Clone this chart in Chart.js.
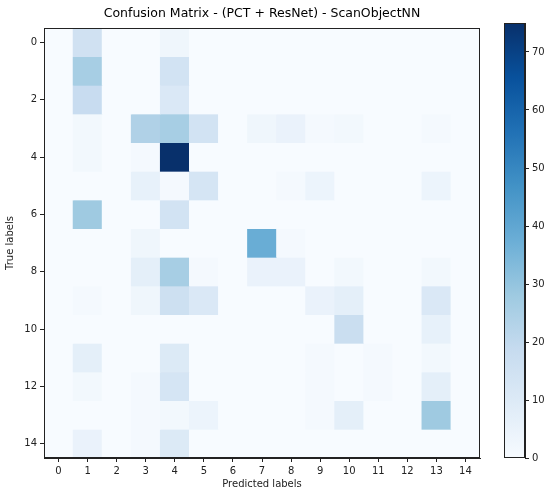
<!doctype html>
<html><head>
<meta charset="utf-8">
<title>Confusion Matrix</title>
<script src="https://cdn.jsdelivr.net/npm/chart.js"></script>
<style>
  body { margin: 0; background: #fff; }
  #wrap { position: relative; width: 552px; height: 496px; }
  #cm { position: absolute; left: 0; top: 0; }
  #cbar { position: absolute; left: 495px; top: 0; }
</style>
</head>
<body>
<div id="wrap">
  <canvas id="cm" width="492" height="496"></canvas>
  <canvas id="cbar" width="57" height="496"></canvas>
</div>
<script>
// labels
const classes = ['0','1','2','3','4','5','6','7','8','9','10','11','12','13','14'];
const yTicks = [0, 2, 4, 6, 8, 10, 12, 14];
const cbarTicks = [0, 10, 20, 30, 40, 50, 60, 70];
const vmin = 0;
const vmax = 75;

// confusion matrix, rows = true labels, cols = predicted labels
const row0  = [0, 15, 0, 0,  3,  0, 0,  0, 0, 0,  0, 0, 0,  0, 0];
const row1  = [0, 26, 0, 0, 14,  0, 0,  0, 0, 0,  0, 0, 0,  0, 0];
const row2  = [0, 18, 0, 0, 11,  0, 0,  0, 0, 0,  0, 0, 0,  0, 0];
const row3  = [0,  2, 0, 24, 26, 14, 0, 3, 5, 1,  2, 0, 0,  1, 0];
const row4  = [0,  2, 0, 1, 75,  0, 0,  0, 0, 0,  0, 0, 0,  0, 0];
const row5  = [0,  0, 0, 6,  1, 13, 0,  0, 1, 4,  0, 0, 0,  4, 0];
const row6  = [0, 28, 0, 0, 14,  0, 0,  0, 0, 0,  0, 0, 0,  0, 0];
const row7  = [0,  0, 0, 3,  0,  0, 0, 38, 1, 0,  0, 0, 0,  0, 0];
const row8  = [0,  0, 0, 7, 26,  1, 0,  5, 5, 0,  2, 0, 0,  2, 0];
const row9  = [0,  1, 0, 3, 16, 11, 0,  0, 0, 5,  7, 0, 0, 11, 0];
const row10 = [0,  0, 0, 0,  0,  0, 0,  0, 0, 0, 17, 0, 0,  6, 0];
const row11 = [0,  7, 0, 0, 10,  0, 0,  0, 0, 1,  0, 1, 0,  2, 0];
const row12 = [0,  2, 0, 1, 13,  0, 0,  0, 0, 1,  0, 1, 0,  7, 0];
const row13 = [0,  0, 0, 1,  2,  4, 0,  0, 0, 1,  7, 0, 0, 28, 0];
const row14 = [0,  5, 0, 1, 10,  0, 0,  0, 0, 0,  0, 0, 0,  0, 0];
const matrix = [row0, row1, row2, row3, row4, row5, row6, row7, row8, row9, row10, row11, row12, row13, row14];

// matplotlib "Blues"
const blues = ['#f7fbff','#deebf7','#c6dbef','#9ecae1','#6baed6','#4292c6','#2171b5','#08519c','#08306b'];

function hex2rgb(h) {
  return [parseInt(h.substr(1,2),16), parseInt(h.substr(3,2),16), parseInt(h.substr(5,2),16)];
}
function blueColor(v) {
  let t = (v - vmin) / (vmax - vmin);
  t = Math.max(0, Math.min(1, t));
  const p = t * (blues.length - 1);
  const i = Math.min(Math.floor(p), blues.length - 2);
  const f = p - i;
  const a = hex2rgb(blues[i]), b = hex2rgb(blues[i+1]);
  const c = a.map((x, k) => Math.round(x + (b[k] - x) * f));
  return 'rgb(' + c.join(',') + ')';
}

const frame = {
  id: 'frame',
  afterDraw(chart) {
    const a = chart.chartArea, ctx = chart.ctx;
    ctx.save();
    ctx.strokeStyle = '#222';
    ctx.lineWidth = 1;
    ctx.strokeRect(Math.round(a.left) + 0.5, Math.round(a.top) + 0.5,
                   Math.round(a.right - a.left) - 1, Math.round(a.bottom - a.top) - 1);
    ctx.restore();
  }
};

Chart.defaults.font.family = 'DejaVu Sans';
Chart.defaults.color = '#222';

var datasets = matrix.map(function(row, r) {
  return {
    label: 'row ' + r,
    data: row.map(function() { return [r - 0.5, r + 0.5]; }),
    backgroundColor: row.map(blueColor),
    borderWidth: 0,
    barPercentage: 1,
    categoryPercentage: 1,
    grouped: false
  };
});

new Chart(document.getElementById('cm'), {
  type: 'bar',
  data: { labels: classes, datasets: datasets },
  options: {
    responsive: false,
    animation: false,
    layout: { padding: { left: 0, right: 12, top: 0, bottom: 0 } },
    plugins: {
      legend: { display: false },
      tooltip: { enabled: false },
      title: {
        display: true,
        text: 'Confusion Matrix - (PCT + ResNet) - ScanObjectNN',
        fullSize: false,
        color: '#000',
        font: { size: 12.5, weight: 'normal' },
        padding: { top: 6, bottom: 7 }
      }
    },
    scales: {
      x: {
        type: 'category',
        offset: true,
        grid: { drawOnChartArea: false, drawTicks: true, tickLength: 4, offset: false, color: '#222' },
        border: { display: true, color: '#222' },
        ticks: { autoSkip: false, maxRotation: 0, padding: 3, font: { size: 10 }, color: '#222' },
        title: { display: true, text: 'Predicted labels', font: { size: 10 }, color: '#222', padding: { top: 2, bottom: 6 } },
        afterFit: function(s) { s.height = 38; }
      },
      y: {
        type: 'linear',
        reverse: true,
        min: -0.5,
        max: 14.5,
        grid: { drawOnChartArea: false, drawTicks: true, tickLength: 4, color: '#222' },
        border: { display: true, color: '#222' },
        ticks: { padding: 3, font: { size: 10 }, color: '#222' },
        afterBuildTicks: function(s) { s.ticks = yTicks.map(function(v) { return { value: v }; }); },
        title: { display: true, text: 'True labels', font: { size: 10 }, color: '#222', padding: { top: 4, bottom: 0 } },
        afterFit: function(s) { s.width = 44; }
      }
    }
  },
  plugins: [frame]
});

// colour bar
new Chart(document.getElementById('cbar'), {
  type: 'bar',
  data: {
    labels: [''],
    datasets: [{
      data: [[vmin, vmax]],
      barPercentage: 1,
      categoryPercentage: 1,
      borderWidth: 0,
      backgroundColor: function(c) {
        const a = c.chart.chartArea;
        if (!a) return blues[4];
        const g = c.chart.ctx.createLinearGradient(0, a.bottom, 0, a.top);
        blues.forEach(function(col, i) { g.addColorStop(i / (blues.length - 1), col); });
        return g;
      }
    }]
  },
  options: {
    responsive: false,
    animation: false,
    layout: { padding: { left: 9, right: 0, top: 23, bottom: 38 } },
    plugins: { legend: { display: false }, tooltip: { enabled: false } },
    scales: {
      x: { display: false },
      y: {
        position: 'right',
        min: vmin,
        max: vmax,
        grid: { drawOnChartArea: false, drawTicks: true, tickLength: 4, color: '#222' },
        border: { display: true, color: '#222' },
        ticks: { padding: 3, font: { size: 10 }, color: '#222' },
        afterBuildTicks: function(s) { s.ticks = cbarTicks.map(function(v) { return { value: v }; }); },
        afterFit: function(s) { s.width = 27; }
      }
    }
  },
  plugins: [frame]
});
</script>
</body></html>
